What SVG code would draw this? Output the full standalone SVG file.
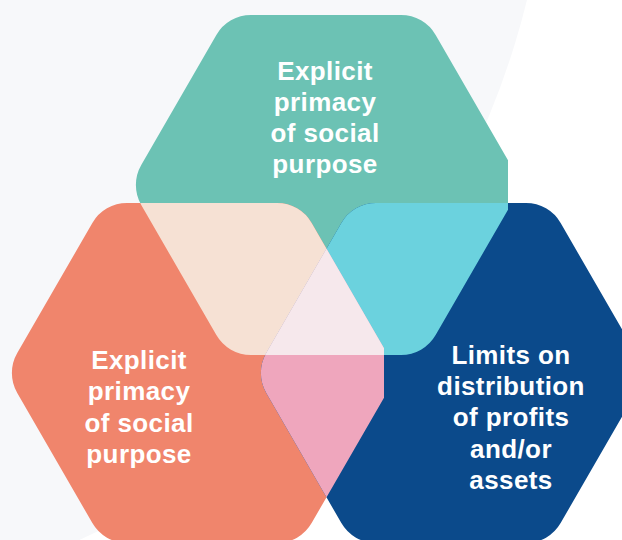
<svg xmlns="http://www.w3.org/2000/svg" xmlns:xlink="http://www.w3.org/1999/xlink" width="622" height="540" viewBox="0 0 622 540">
  <style>
    .lbl { font-family: "Liberation Sans", Arial, sans-serif; font-weight: 700; font-size: 26px; letter-spacing: 0.4px; fill: #ffffff; text-anchor: middle; }
  </style>
  <defs>
    <!-- flat-top hexagon, rounded corners (r=40), right point trimmed at x=+182 -->
    <path id="hex" d="M -75 -170 L 75 -170 A 40 40 0 0 1 109.65 -150 L 182 -24.7 L 182 24.7 L 109.65 150 A 40 40 0 0 1 75 170 L -75 170 A 40 40 0 0 1 -109.65 150 L -184.75 20 A 40 40 0 0 1 -184.75 -20 L -109.65 -150 A 40 40 0 0 1 -75 -170 Z"/>
    <clipPath id="clipTop"><use xlink:href="#hex" transform="translate(326,185)"/></clipPath>
    <clipPath id="clipLeft"><use xlink:href="#hex" transform="translate(202,373)"/></clipPath>
  </defs>

  <!-- page background with soft grey disc -->
  <rect width="622" height="540" fill="#ffffff"/>
  <circle cx="-253" cy="-191" r="803" fill="#f7f8fa"/>

  <g id="hex-top">
    <use xlink:href="#hex" transform="translate(326,185)" fill="#6cc2b4"/>
  </g>
  <g id="hex-left">
    <use xlink:href="#hex" transform="translate(202,373)" fill="#f0856c"/>
  </g>
  <g id="hex-right">
    <use xlink:href="#hex" transform="translate(451,373)" fill="#0b4a8b"/>
  </g>

  <!-- overlap regions -->
  <g id="overlaps">
    <g clip-path="url(#clipTop)">
      <use xlink:href="#hex" transform="translate(202,373)" fill="#f6e1d4"/>
      <use xlink:href="#hex" transform="translate(451,373)" fill="#6bd2de"/>
    </g>
    <g clip-path="url(#clipLeft)">
      <use xlink:href="#hex" transform="translate(451,373)" fill="#efa6bd"/>
      <g clip-path="url(#clipTop)">
        <use xlink:href="#hex" transform="translate(451,373)" fill="#f6e8ec"/>
      </g>
    </g>
  </g>

  <g id="labels">
    <g id="label-top">
      <text class="lbl" x="325" y="80">Explicit</text>
      <text class="lbl" x="325" y="111">primacy</text>
      <text class="lbl" x="325" y="142">of social</text>
      <text class="lbl" x="325" y="173">purpose</text>
    </g>
    <g id="label-left">
      <text class="lbl" x="139" y="369">Explicit</text>
      <text class="lbl" x="139" y="400">primacy</text>
      <text class="lbl" x="139" y="432">of social</text>
      <text class="lbl" x="139" y="463">purpose</text>
    </g>
    <g id="label-right">
      <text class="lbl" x="511" y="364">Limits on</text>
      <text class="lbl" x="511" y="395">distribution</text>
      <text class="lbl" x="511" y="426">of profits</text>
      <text class="lbl" x="511" y="458">and/or</text>
      <text class="lbl" x="511" y="489">assets</text>
    </g>
  </g>
</svg>
